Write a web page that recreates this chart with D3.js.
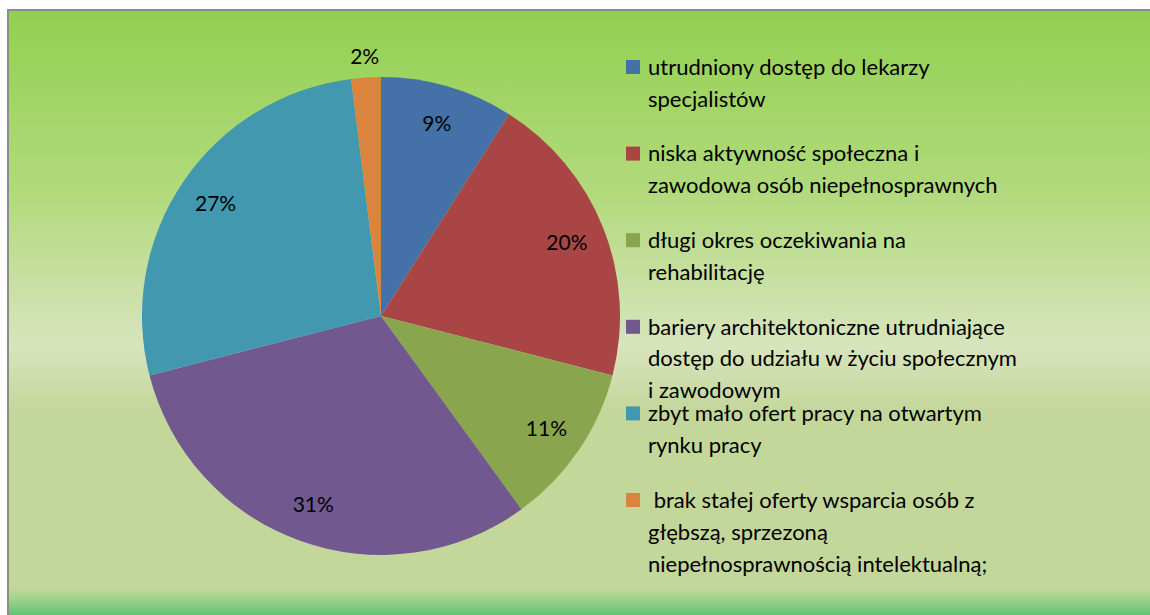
<!DOCTYPE html>
<html>
<head>
<meta charset="utf-8">
<script src="https://cdn.jsdelivr.net/npm/d3@7"></script>
<style>
  body { margin: 0; background: #fff; }
  svg { display: block; font-family: Lato, "Open Sans", sans-serif; }
</style>
</head>
<body>
<script>
    // Data
    const categories = [
        "utrudniony dostęp do lekarzy\nspecjalistów",
        "niska aktywność społeczna i\nzawodowa osób niepełnosprawnych",
        "długi okres oczekiwania na\nrehabilitację",
        "bariery architektoniczne utrudniające\ndostęp do udziału w życiu społecznym\ni zawodowym",
        "zbyt mało ofert pracy na otwartym\nrynku pracy",
        " brak stałej oferty wsparcia osób z\ngłębszą, sprzezoną\nniepełnosprawnością intelektualną;"
    ];
    const values = [9, 20, 11, 31, 27, 2];
    const colors = ["#4472a8", "#a94545", "#89a54e", "#71588f", "#4198af", "#db843d"];

    const width = 1150, height = 615;
    const cx = 381, cy = 316, radius = 239;

    const svg = d3.select("body").append("svg")
        .attr("width", width)
        .attr("height", height);

    // background panel
    const defs = svg.append("defs");
    const grad = defs.append("linearGradient")
        .attr("id", "bg")
        .attr("x1", 0).attr("y1", 0).attr("x2", 0).attr("y2", 1);
    [[0, "#92d050"], [0.3, "#b2da7d"], [0.546, "#d8e4bd"], [0.65, "#c4d79b"],
     [0.94, "#c4d79b"], [0.955, "#a6d48c"], [1, "#3cb963"]]
        .forEach(([o, c]) => grad.append("stop").attr("offset", o).attr("stop-color", c));

    svg.append("rect")
        .attr("x", 8).attr("y", 10)
        .attr("width", width).attr("height", height)
        .attr("fill", "url(#bg)")
        .attr("stroke", "#8c8c8c")
        .attr("stroke-width", 2);

    // pie
    const pie = d3.pie().sort(null).value(d => d);
    const arcs = pie(values);
    const arc = d3.arc().innerRadius(0).outerRadius(radius);
    const labelArc = d3.arc().innerRadius(200).outerRadius(200);
    const outerArc = d3.arc().innerRadius(radius + 21).outerRadius(radius + 21);

    const g = svg.append("g").attr("transform", `translate(${cx},${cy})`);

    g.selectAll("path")
        .data(arcs)
        .enter()
        .append("path")
        .attr("d", arc)
        .attr("fill", (d, i) => colors[i]);

    g.selectAll("text")
        .data(arcs)
        .enter()
        .append("text")
        .attr("transform", d => `translate(${(d.data < 5 ? outerArc : labelArc).centroid(d)})`)
        .attr("text-anchor", "middle")
        .attr("dy", "0.35em")
        .attr("font-size", 21)
        .attr("fill", "#000")
        .text(d => d.data + "%");

    // legend
    const legendY = d3.scaleLinear().domain([0, 1]).range([67, 153.6]);
    const lineH = 32;

    const legend = svg.append("g");
    const items = legend.selectAll("g")
        .data(categories)
        .enter()
        .append("g")
        .attr("transform", (d, i) => `translate(626,${legendY(i)})`);

    items.append("rect")
        .attr("x", 0).attr("y", -7)
        .attr("width", 14).attr("height", 14)
        .attr("fill", (d, i) => colors[i]);

    items.append("text")
        .attr("font-size", 22)
        .attr("fill", "#000")
        .style("white-space", "pre")
        .selectAll("tspan")
        .data(d => d.split("\n"))
        .enter()
        .append("tspan")
        .attr("x", 22)
        .attr("y", (d, i) => i * lineH)
        .attr("dy", "0.35em")
        .text(d => d);
</script>
</body>
</html>
